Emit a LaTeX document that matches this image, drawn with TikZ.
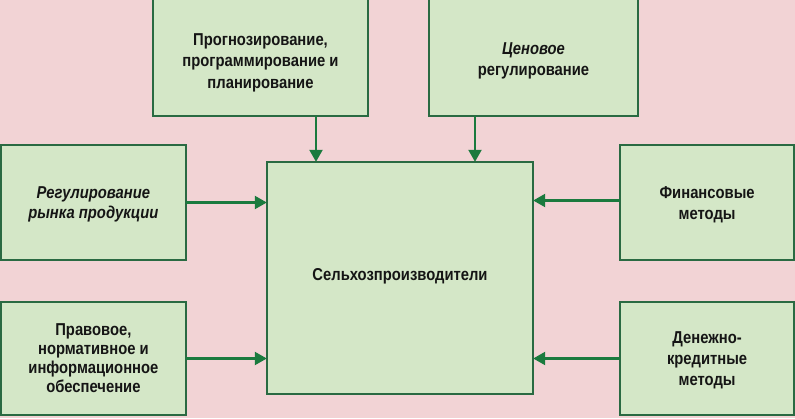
\documentclass[tikz,border=0pt]{standalone}
\usepackage{fontspec}
\setmainfont{Liberation Sans}[FakeStretch=0.86]
\usetikzlibrary{arrows.meta}
\definecolor{bgpink}{HTML}{F2D3D5}
\definecolor{boxfill}{HTML}{D4E7C7}
\definecolor{boxline}{HTML}{2A6A42}
\definecolor{arrgreen}{HTML}{1B7A3E}
\definecolor{txt}{HTML}{151515}
\begin{document}
\begin{tikzpicture}[x=1pt,y=1pt,
  blk/.style={draw=boxline,line width=1.5pt,fill=boxfill,inner sep=0pt},
  lbl/.style={font=\fontsize{17.2}{20.5}\selectfont\bfseries,text=txt,align=center,inner sep=0pt},
  arr/.style={draw=arrgreen,line width=2.2pt,-{Triangle[length=12pt,width=13pt]}}]
\fill[bgpink] (0,0) rectangle (795,-418);
\useasboundingbox (0,0) rectangle (795,-418);
% boxes
\path[blk] (153,0.6) rectangle (368,-116) coordinate[pos=.5] (t1c);
\path[blk] (429,0.6) rectangle (638,-116) coordinate[pos=.5] (t2c);
\path[blk] (0.8,-145) rectangle (186,-260) coordinate[pos=.5] (l1c);
\path[blk] (0.8,-302) rectangle (186,-415) coordinate[pos=.5] (l2c);
\path[blk] (620,-145) rectangle (794.2,-260) coordinate[pos=.5] (r1c);
\path[blk] (620,-302) rectangle (794.2,-415) coordinate[pos=.5] (r2c);
\path[blk] (267,-162) rectangle (533,-394) coordinate[pos=.5] (cc);
% named nodes covering boxes
\node[minimum width=215pt,minimum height=116pt,inner sep=0pt] (t1) at (t1c) {};
\node[minimum width=209pt,minimum height=116pt,inner sep=0pt] (t2) at (t2c) {};
\node[minimum width=185pt,minimum height=115pt,inner sep=0pt] (l1) at (l1c) {};
\node[minimum width=185pt,minimum height=113pt,inner sep=0pt] (l2) at (l2c) {};
\node[minimum width=174pt,minimum height=115pt,inner sep=0pt] (r1) at (r1c) {};
\node[minimum width=174pt,minimum height=113pt,inner sep=0pt] (r2) at (r2c) {};
\node[minimum width=266pt,minimum height=232pt,inner sep=0pt] (c) at (cc) {};
% labels
\node[lbl,font=\fontsize{17.2}{21.5}\selectfont\bfseries] at ([yshift=-5pt]t1.center) {Прогнозирование,\\программирование и\\планирование};
\node[lbl,font=\fontsize{17.2}{21.5}\selectfont\bfseries] at ([yshift=-3pt]t2.center) {\textit{Ценовое}\\регулирование};
\node[lbl] at ([yshift=-2pt]l1.center) {\textit{Регулирование}\\\textit{рынка продукции}};
\node[lbl,font=\fontsize{17.2}{19}\selectfont\bfseries] at (l2.center) {Правовое,\\нормативное и\\информационное\\обеспечение};
\node[lbl] at ([yshift=-2pt]r1.center) {Финансовые\\методы};
\node[lbl,font=\fontsize{17.2}{21}\selectfont\bfseries] at ([yshift=-2pt]r2.center) {Денежно-\\кредитные\\методы};
\node[lbl] at ([yshift=2pt]c.center) {Сельхозпроизводители};
% arrows
\coordinate (a1) at ([xshift=55.5pt]t1.south);
\coordinate (a2) at ([xshift=-58.5pt]t2.south);
\draw[arr] (a1) -- (a1 |- c.north);
\draw[arr] (a2) -- (a2 |- c.north);
\draw[arr] (l1.east) -- (l1.east -| c.west);
\draw[arr] (l2.east) -- (l2.east -| c.west);
\draw[arr] ([yshift=2pt]r1.west) -- ([yshift=2pt]r1.west -| c.east);
\draw[arr] (r2.west) -- (r2.west -| c.east);
\end{tikzpicture}
\end{document}
